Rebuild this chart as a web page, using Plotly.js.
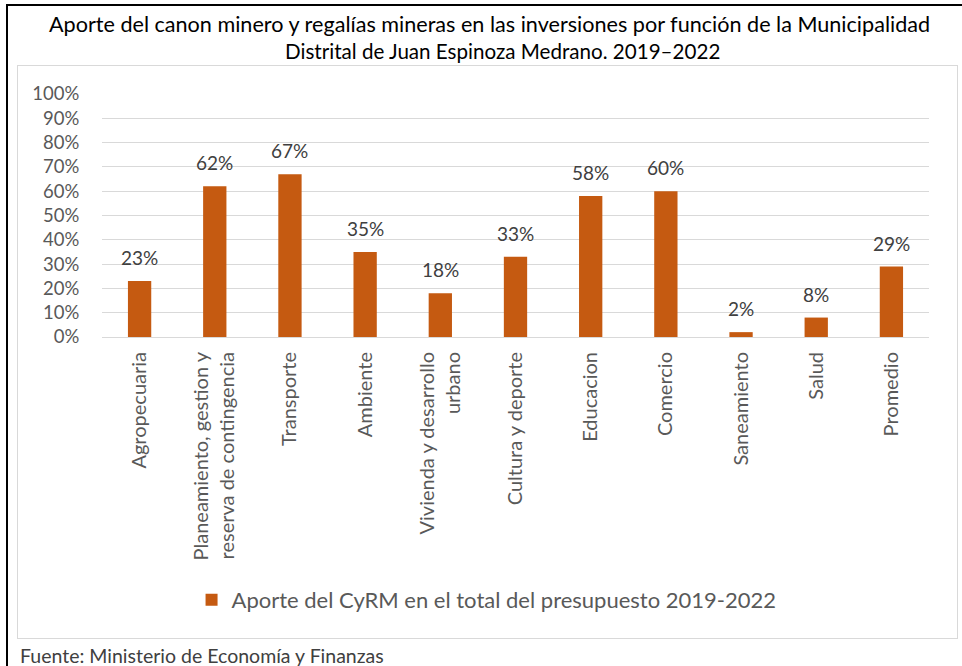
<!DOCTYPE html>
<html>
<head>
<meta charset="utf-8">
<script src="https://cdn.plot.ly/plotly-3.0.1.min.js"></script>
<style>
html,body{margin:0;padding:0;background:#fff;width:962px;height:666px;overflow:hidden;}
#outer{position:absolute;left:6px;top:4px;width:960px;height:670px;border-top:2px solid #000;border-left:2px solid #000;}
#inner{position:absolute;left:17px;top:65px;width:939px;height:572px;border:1px solid #d9d9d9;}
#chart{position:absolute;left:0;top:0;width:962px;height:666px;}
</style>
</head>
<body>
<div id="outer"></div>
<div id="inner"></div>
<div id="chart"></div>
<script>
const categories = [
  "Agropecuaria",
  "Planeamiento, gestion y<br>reserva de contingencia",
  "Transporte",
  "Ambiente",
  "Vivienda y desarrollo<br>urbano",
  "Cultura y deporte",
  "Educacion",
  "Comercio",
  "Saneamiento",
  "Salud",
  "Promedio"
];
const values = [0.23, 0.62, 0.67, 0.35, 0.18, 0.33, 0.58, 0.60, 0.02, 0.08, 0.29];
const seriesName = "Aporte del CyRM en el total del presupuesto 2019-2022";
const titleLines = [
  "Aporte del canon minero y regalías mineras en las inversiones por función de la Municipalidad",
  "Distrital de Juan Espinoza Medrano. 2019–2022"
];
const sourceText = "Fuente: Ministerio de Economía y Finanzas";

const FONT = "Lato, 'Open Sans', sans-serif";

const trace = {
  type: 'bar',
  x: categories,
  y: values,
  name: seriesName,
  marker: {color: '#C55A11'},
  width: 0.31,
  hoverinfo: 'none'
};

const labelAnns = categories.map((c, i) => ({
  x: c, y: values[i], xref: 'x', yref: 'y',
  text: Math.round(values[i] * 100) + '%',
  showarrow: false, yanchor: 'bottom', yshift: 10,
  font: {family: FONT, size: 19, color: '#404040'}
}));

const titleAnns = [
  {text: titleLines[0], x: 0.468, y: 1.288, size: 21.6},
  {text: titleLines[1], x: 0.4837, y: 1.177, size: 20.6}
].map(a => ({
  text: a.text, x: a.x, y: a.y,
  xref: 'paper', yref: 'paper', xanchor: 'center', yanchor: 'middle',
  showarrow: false, font: {family: FONT, size: a.size, color: '#000'}
}));

const layout = {
  width: 962, height: 666,
  margin: {l: 102, r: 33, t: 94, b: 329},
  paper_bgcolor: 'rgba(0,0,0,0)',
  plot_bgcolor: 'rgba(0,0,0,0)',
  font: {family: FONT, color: '#595959'},
  showlegend: true,
  legend: {
    orientation: 'h', x: 0.465, xanchor: 'center', y: -1.082, yanchor: 'middle',
    itemwidth: 30,
    font: {family: FONT, size: 22, color: '#595959'}
  },
  xaxis: {
    type: 'category',
    tickangle: -90,
    ticks: 'outside', ticklen: 6, tickcolor: 'rgba(0,0,0,0)',
    tickfont: {family: FONT, size: 20, color: '#595959'},
    showline: true, linecolor: '#d9d9d9', linewidth: 1,
    showgrid: false, fixedrange: true
  },
  yaxis: {
    range: [0, 1], dtick: 0.1, tickformat: '.0%',
    ticks: 'outside', ticklen: 18, tickcolor: 'rgba(0,0,0,0)',
    tickfont: {family: FONT, size: 18.5, color: '#595959'},
    gridcolor: '#d9d9d9', gridwidth: 1, zeroline: false,
    showline: false, fixedrange: true
  },
  annotations: titleAnns.concat(labelAnns).concat([{
    text: sourceText, xref: 'paper', yref: 'paper',
    x: -0.1016, y: -1.309, xanchor: 'left', yanchor: 'middle',
    showarrow: false, font: {family: FONT, size: 19.5, color: '#404040'}
  }]),
  bargap: 0.69
};

Plotly.newPlot('chart', [trace], layout, {displayModeBar: false, staticPlot: true});
</script>
</body>
</html>
